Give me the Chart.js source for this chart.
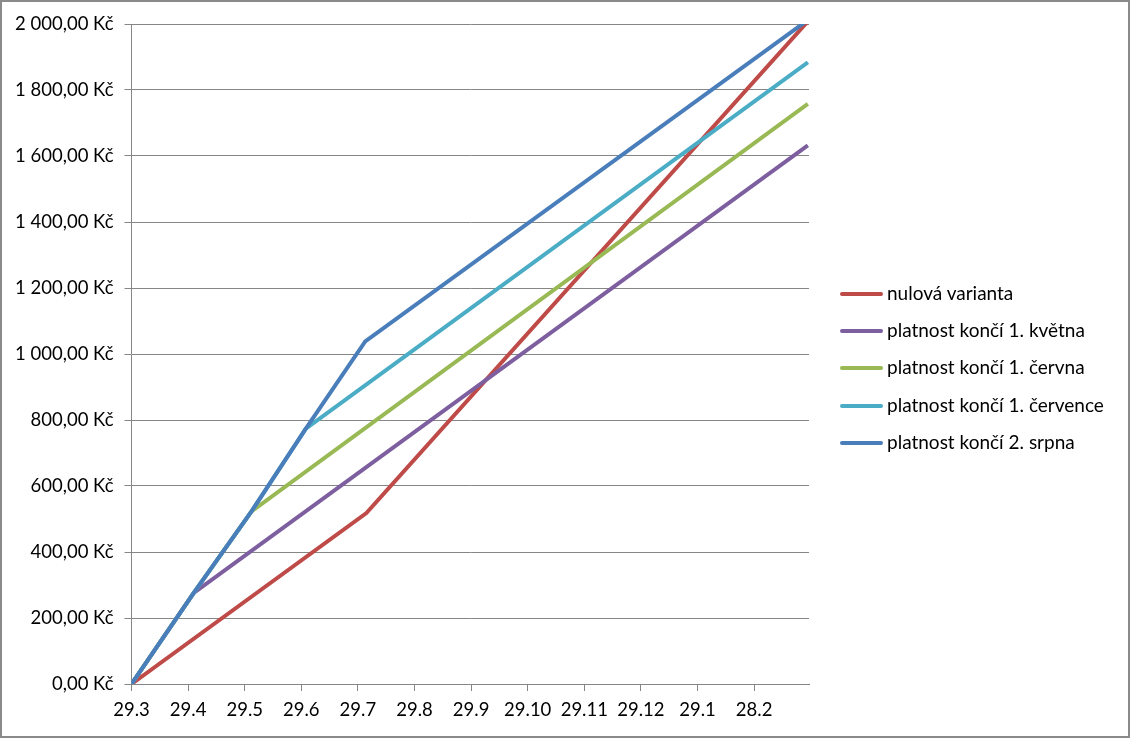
<!DOCTYPE html>
<html>
<head>
<meta charset="utf-8">
<script src="https://cdn.jsdelivr.net/npm/chart.js@4/dist/chart.umd.min.js"></script>
<style>
  html, body { margin: 0; padding: 0; background: #fff; }
  #wrap { position: relative; width: 1130px; height: 738px; overflow: hidden; }
  #graf { position: absolute; left: 0; top: 0; }
  #frame { position: absolute; left: 0; top: 0; width: 1130px; height: 738px;
           box-sizing: border-box; border: 2px solid #8a8a8a; pointer-events: none; }
  #legenda { position: absolute; left: 840px; top: 0; font-family: Lato, "Open Sans", sans-serif;
             font-size: 19px; color: #000; }
  .item { position: absolute; left: 0; white-space: nowrap; height: 24px; line-height: 24px; }
  .item span.line { position: absolute; left: 0; top: 10px; width: 43px; height: 4px; border-radius: 2px; }
  .item span.txt { position: absolute; left: 47px; top: -1px; }
</style>
</head>
<body>
<div id="wrap">
  <canvas id="graf" width="1130" height="738"></canvas>
  <div id="legenda"></div>
  <div id="frame"></div>
</div>
<script>
// popisky osy x (měsíce)
const monthLabels = ['29.3', '29.4', '29.5', '29.6', '29.7', '29.8', '29.9', '29.10', '29.11', '29.12', '29.1', '28.2'];

const seriesNames = [
  'nulová varianta',
  'platnost končí 1. května',
  'platnost končí 1. června',
  'platnost končí 1. července',
  'platnost končí 2. srpna'
];
const seriesColors = ['#be4b48', '#7d5fa0', '#98b954', '#4bacc6', '#4a7ebb'];

// zlomové body (x = měsíc od 29.3, y = Kč)
const nulovaX = [0, 4.15, 11.95];
const nulovaY = [0, 518, 2008];

const kvetenX = [0, 1.1, 11.95];
const kvetenY = [0, 276, 1632];

const cervenX = [0, 1.1, 2.12, 11.95];
const cervenY = [0, 276, 523, 1758];

const cervenecX = [0, 1.1, 2.12, 3.08, 11.95];
const cervenecY = [0, 276, 523, 774, 1884];

const srpenX = [0, 1.1, 2.12, 3.08, 4.13, 11.95];
const srpenY = [0, 276, 523, 774, 1038, 2012];

const allX = [nulovaX, kvetenX, cervenX, cervenecX, srpenX];
const allY = [nulovaY, kvetenY, cervenY, cervenecY, srpenY];

const yTicks = [0, 200, 400, 600, 800, 1000, 1200, 1400, 1600, 1800, 2000];

function formatKc(v) {
    const s = v.toFixed(2).split('.');
    const cela = s[0].replace(/\B(?=(\d{3})+(?!\d))/g, ' ');
    return cela + ',' + s[1] + ' Kč';
}

const gridColor = '#868686';
const fontFam = 'Lato, "Open Sans", sans-serif';

const datasets = seriesNames.map((name, i) => ({
    label: name,
    data: allX[i].map((x, j) => ({ x: x, y: allY[i][j] })),
    borderColor: seriesColors[i],
    backgroundColor: seriesColors[i],
    borderWidth: 4,
    pointRadius: 0,
    tension: 0,
    fill: false,
    order: 5 - i
}));

new Chart(document.getElementById('graf'), {
    type: 'line',
    data: { datasets: datasets },
    options: {
        responsive: false,
        animation: false,
        layout: { padding: { left: 0, top: 24, right: 321, bottom: 0 } },
        plugins: { legend: { display: false }, tooltip: { enabled: false } },
        scales: {
            x: {
                type: 'linear',
                min: 0,
                max: 11.97,
                afterBuildTicks: (scale) => {
                    scale.ticks = monthLabels.map((l, i) => ({ value: i }));
                },
                afterFit: (scale) => { scale.height = 738 - 684; },
                ticks: {
                    autoSkip: false,
                    maxRotation: 0,
                    padding: 8,
                    color: '#000',
                    font: { family: fontFam, size: 18.5 },
                    callback: (v) => monthLabels[v] !== undefined ? monthLabels[v] : ''
                },
                grid: { drawOnChartArea: false, drawTicks: true, tickLength: 7, color: gridColor },
                border: { color: gridColor, width: 1 }
            },
            y: {
                min: 0,
                max: 2000,
                afterBuildTicks: (scale) => {
                    scale.ticks = yTicks.map(v => ({ value: v }));
                },
                afterFit: (scale) => { scale.width = 131.5; },
                ticks: {
                    padding: 11,
                    color: '#000',
                    font: { family: fontFam, size: 18.5 },
                    callback: (v) => formatKc(v)
                },
                grid: { drawOnChartArea: true, drawTicks: true, tickLength: 7, color: gridColor },
                border: { color: gridColor, width: 1 }
            }
        }
    }
});

// legenda vpravo
const legenda = document.getElementById('legenda');
const legendTops = [294, 331, 368, 406, 443];
seriesNames.forEach((name, i) => {
    const el = document.createElement('div');
    el.className = 'item';
    el.style.top = (legendTops[i] - 12) + 'px';
    el.innerHTML = '<span class="line" style="background:' + seriesColors[i] + '"></span>' +
                   '<span class="txt">' + name + '</span>';
    legenda.appendChild(el);
});
</script>
</body>
</html>
